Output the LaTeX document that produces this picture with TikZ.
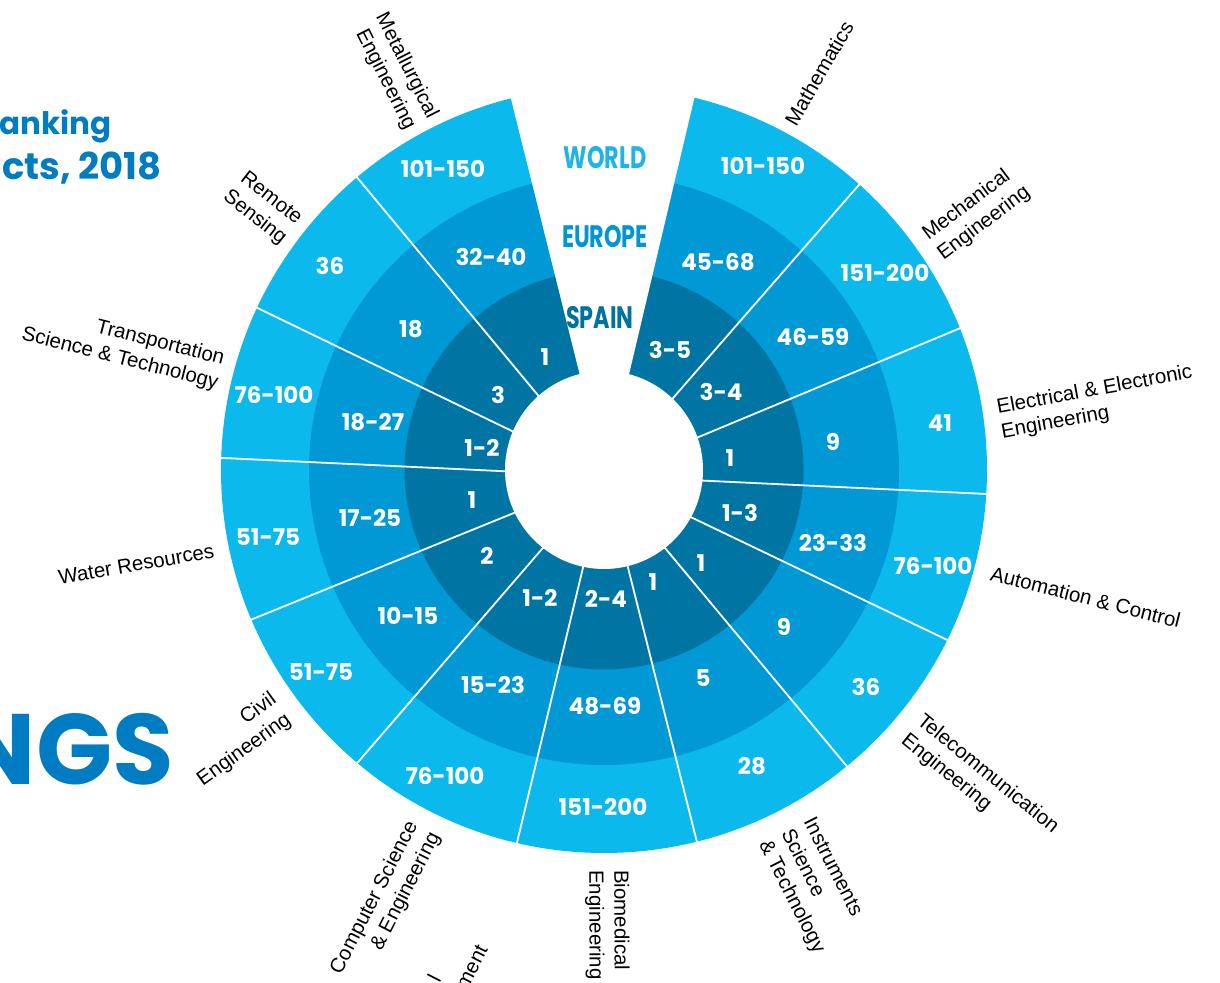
\documentclass[tikz,border=0pt]{standalone}
\usepackage{fontspec}
\setmainfont{Liberation Sans}
\newfontfamily\popfont{Poppins}
\usetikzlibrary{calc}
\definecolor{worldc}{RGB}{12,185,237}
\definecolor{europec}{RGB}{0,152,213}
\definecolor{spainc}{RGB}{0,117,163}
\definecolor{titlec}{RGB}{0,124,194}
\definecolor{worldt}{RGB}{30,180,232}
\definecolor{europet}{RGB}{0,150,212}
\definecolor{spaint}{RGB}{0,113,160}
\begin{document}
\begin{tikzpicture}[x=1pt,y=1pt,
  num/.style={text=white, font=\popfont\bfseries\fontsize{23}{26}\selectfont, inner sep=0pt},
  lab/.style={text=black, font=\fontsize{20.5}{25}\selectfont, inner sep=0pt},
  labr/.style={lab, anchor=west, align=left},
  labl/.style={lab, anchor=east, align=right},
  sepline/.style={white, line width=1.8pt},
  head/.style={font=\popfont\bfseries\fontsize{31}{34}\selectfont, inner sep=0pt},
  ttl/.style={text=titlec, font=\popfont\bfseries, inner sep=0pt, anchor=base east},
]
\useasboundingbox (0,0) rectangle (1220,982);
\coordinate (C) at (604,512);
\coordinate (O) at (605,506);
% rings
\fill[worldc] (C) circle[radius=383];
\fill[europec] (C) circle[radius=295];
\fill[spainc] (C) circle[radius=199.5];
% separators
\foreach \a in {48.9,22.6,-2.7,-25.6,-50.2,-75.9,-103.5,-130.8,-157.9,177.3,154.2,129.7}
  \draw[sepline] (O) -- ++(\a:392);
% hole and gap
\fill[white] (C) circle[radius=99];
\fill[white] (O) -- ($(O)+(76.7:470)$) -- ($(O)+(90:490)$) -- ($(O)+(104:470)$) -- cycle;
% headers
\node[head, text=worldt] (hw) at (605,824) {\scalebox{0.72}[1]{WORLD}};
\node[head, text=europet] (he) at (605,745) {\scalebox{0.72}[1]{EUROPE}};
\node[head, text=spaint] (hs) at (600,664) {\scalebox{0.72}[1]{SPAIN}};
% world values
\node[num] (w1) at (763,816) {101-150};
\node[num] (w2) at (885,709) {151-200};
\node[num] (w3) at (940,559) {41};
\node[num] (w4) at (933,416) {76-100};
\node[num] (w5) at (866,295) {36};
\node[num] (w6) at (752,216) {28};
\node[num] (w7) at (603,175) {151-200};
\node[num] (w8) at (445,206) {76-100};
\node[num] (w9) at (321,310) {51-75};
\node[num] (w10) at (268,445) {51-75};
\node[num] (w11) at (274,587) {76-100};
\node[num] (w12) at (330,716) {36};
\node[num] (w13) at (443,813) {101-150};
% europe values
\node[num] (e1) at (718,720) {45-68};
\node[num] (e2) at (813,645) {46-59};
\node[num] (e3) at (833,540) {9};
\node[num] (e4) at (833,439) {23-33};
\node[num] (e5) at (784,355) {9};
\node[num] (e6) at (703,304) {5};
\node[num] (e7) at (605,276) {48-69};
\node[num] (e8) at (493,297) {15-23};
\node[num] (e9) at (408,366) {10-15};
\node[num] (e10) at (370,464) {17-25};
\node[num] (e11) at (373,560) {18-27};
\node[num] (e12) at (411,653) {18};
\node[num] (e13) at (491,725) {32-40};
% spain values
\node[num] (s1) at (670,632) {3-5};
\node[num] (s2) at (721,590) {3-4};
\node[num] (s3) at (730,524) {1};
\node[num] (s4) at (740,469) {1-3};
\node[num] (s5) at (701,419) {1};
\node[num] (s6) at (653,400) {1};
\node[num] (s7) at (606,383) {2-4};
\node[num] (s8) at (540,384) {1-2};
\node[num] (s9) at (487,426) {2};
\node[num] (s10) at (472,482) {1};
\node[num] (s11) at (482,534) {1-2};
\node[num] (s12) at (498,587) {3};
\node[num] (s13) at (545,625) {1};
% subject labels
\node[labr, rotate=60] (l1) at ($(O)+(62.3:398)$) {Mathematics};
\node[labr, rotate=37] (l2) at ($(O)+(35:400)$) {Mechanical\\Engineering};
\node[labr, rotate=10.3] (l3) at ($(O)+(8:398)$) {Electrical \& Electronic\\Engineering};
\node[labr, rotate=-14.15] (l4) at ($(O)+(-14.15:398)$) {Automation \& Control};
\node[labr, rotate=-39] (l5) at ($(O)+(-39.5:397)$) {Telecommunication\\Engineering};
\node[labr, rotate=-63.05] (l6) at ($(O)+(-63.05:398)$) {Instruments\\Science\\\& Technology};
\node[labr, rotate=-89.7] (l7) at ($(O)+(-89.7:394)$) {Biomedical\\Engineering};
\node[labl, rotate=62.85] (l8) at ($(O)+(-117.15:396)$) {Computer Science\\\& Engineering};
\node[labl, rotate=35.65] (l9) at ($(O)+(-144.35:398)$) {Civil\\Engineering};
\node[labl, rotate=10] (l10) at ($(O)+(190.8:398)$) {Water Resources};
\node[labl, rotate=-14.25] (l11) at ($(O)+(164.8:398)$) {Transportation\\Science \& Technology};
\node[labl, rotate=-38.05] (l12) at ($(O)+(141.95:398)$) {Remote\\Sensing};
\node[labl, rotate=-63.15] (l13) at ($(O)+(117.5:398)$) {Metallurgical\\Engineering};
% partial label at the bottom edge
\node[lab, rotate=63] (lx1) at (472,15) {ment};
\node[lab, rotate=63] (lx2) at (434,4) {l};
% title fragments
\node[ttl, font=\popfont\bfseries\fontsize{31}{34}\selectfont] (t1) at (112,847) {anking};
\node[ttl, font=\popfont\bfseries\fontsize{37}{40}\selectfont] (t2) at (162,802) {cts, 2018};
\node[ttl, font=\popfont\bfseries\fontsize{100}{100}\selectfont] (t3) at (174,197) {NGS};
\end{tikzpicture}
\end{document}
